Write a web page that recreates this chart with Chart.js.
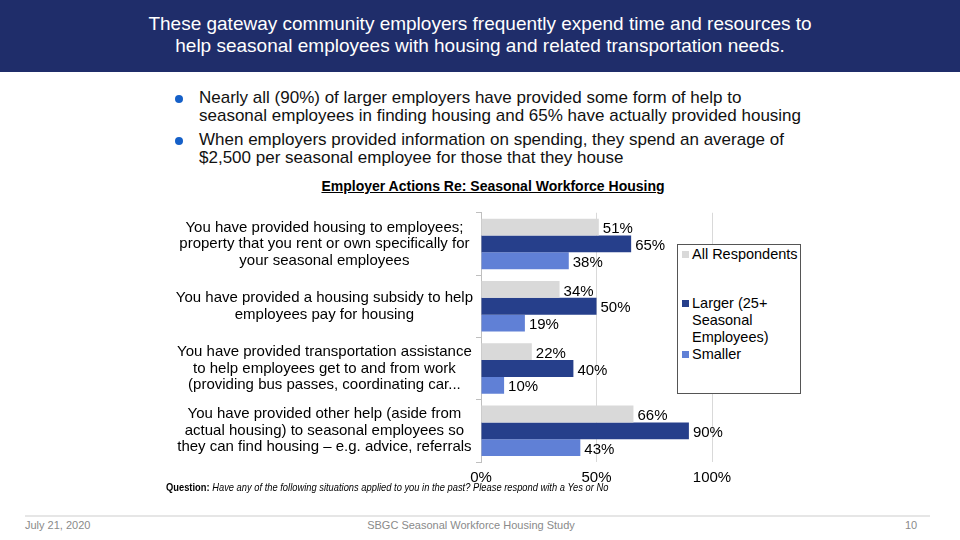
<!DOCTYPE html>
<html>
<head>
<meta charset="utf-8">
<script src="https://cdn.jsdelivr.net/npm/chart.js@4.4.1/dist/chart.umd.min.js"></script>
<style>
    body { margin: 0; width: 960px; height: 540px; position: relative; overflow: hidden; background: #fff; font-family: "Liberation Sans", Arial, sans-serif; }
    #header { position: absolute; left: 0; top: 0; width: 960px; height: 72px; background: #1f2d6a; color: #fff; text-align: center; font-size: 19px; line-height: 22px; padding-top: 13px; box-sizing: border-box; }
    #bullets { position: absolute; left: 172px; top: 89px; font-size: 17px; line-height: 18px; color: #111; }
    #bullets div { position: relative; padding-left: 27px; margin-bottom: 6px; }
    #bullets div::before { content: ""; position: absolute; left: 3px; top: 6px; width: 8px; height: 8px; border-radius: 50%; background: #1560c8; }
    #title { position: absolute; left: 0; width: 986px; top: 178px; text-align: center; font-size: 14px; font-weight: bold; text-decoration: underline; color: #000; }
    #wrap { position: absolute; left: 150px; top: 185px; width: 670px; height: 305px; }
    #legend { position: absolute; left: 677px; top: 244px; width: 124px; height: 150px; border: 1px solid #555; box-sizing: border-box; background: #fff; font-size: 14.5px; line-height: 17px; color: #000; }
    #legend .item { position: absolute; left: 4px; padding-left: 10px; }
    #legend .sw { position: absolute; left: 0; top: 5px; width: 7px; height: 7px; }
    #question { position: absolute; left: 166px; top: 481px; font-size: 10.5px; color: #000; white-space: nowrap; transform: scaleX(0.89); transform-origin: left top; }
    #rule { position: absolute; left: 25px; top: 515px; width: 905px; height: 2px; background: #e6e6e6; }
    .foot { position: absolute; top: 519px; font-size: 11px; color: #8a8a8a; }
</style>
</head>
<body>
<div id="header">These gateway community employers frequently expend time and resources to<br>help seasonal employees with housing and related transportation needs.</div>
<div id="bullets">
    <div>Nearly all (90%) of larger employers have provided some form of help to<br>seasonal employees in finding housing and 65% have actually provided housing</div>
    <div>When employers provided information on spending, they spend an average of<br>$2,500 per seasonal employee for those that they house</div>
</div>
<div id="title">Employer Actions Re: Seasonal Workforce Housing</div>
<div id="wrap"><canvas id="myChart" width="670" height="305"></canvas></div>
<div id="legend"></div>
<div id="question"><b>Question:</b> <i>Have any of the following situations applied to you in the past? Please respond with a Yes or No</i></div>
<div id="rule"></div>
<div class="foot" style="left:25px">July 21, 2020</div>
<div class="foot" style="left:0;width:942px;text-align:center">SBGC Seasonal Workforce Housing Study</div>
<div class="foot" style="left:905px">10</div>
<script>
const categories = [
    ['You have provided housing to employees;', 'property that you rent or own specifically for', 'your seasonal employees'],
    ['You have provided a housing subsidy to help', 'employees pay for housing'],
    ['You have provided transportation assistance', 'to help employees get to and from work', '(providing bus passes, coordinating car...'],
    ['You have provided other help (aside from', 'actual housing) to seasonal employees so', 'they can find housing \u2013 e.g. advice, referrals']
];
const allRespondents = [51, 34, 22, 66];
const larger = [65, 50, 40, 90];
const smaller = [38, 19, 10, 43];
const xTicks = [0, 50, 100];

const seriesNames = ['All Respondents', ['Larger (25+', 'Seasonal', 'Employees)'], 'Smaller'];
const seriesColors = ['#d9d9d9', '#263f8b', '#6080d6'];

// legend like the slide, drawn in html
const legendTops = [1, 50, 101];
let legendHtml = '';
seriesNames.forEach((name, i) => {
    let txt = Array.isArray(name) ? name.join('<br>') : name;
    legendHtml += '<div class="item" style="top:' + legendTops[i] + 'px"><span class="sw" style="background:' + seriesColors[i] + '"></span>' + txt + '</div>';
});
document.getElementById('legend').innerHTML = legendHtml;

// value labels at the end of each bar
const barLabels = {
    id: 'barLabels',
    afterDatasetsDraw(chart) {
        const ctx = chart.ctx;
        ctx.save();
        ctx.font = '15px "Liberation Sans", Arial, sans-serif';
        ctx.fillStyle = '#000';
        ctx.textAlign = 'left';
        ctx.textBaseline = 'middle';
        chart.data.datasets.forEach((ds, i) => {
            chart.getDatasetMeta(i).data.forEach((bar, j) => {
                ctx.fillText(ds.data[j] + '%', bar.x + 4, bar.y + 2);
            });
        });
        ctx.restore();
    }
};

const ctx = document.getElementById('myChart');
const chart = new Chart(ctx, {
    type: 'bar',
    data: {
        labels: categories,
        datasets: [
            { label: 'All Respondents', data: allRespondents, backgroundColor: seriesColors[0] },
            { label: 'Larger (25+ Seasonal Employees)', data: larger, backgroundColor: seriesColors[1] },
            { label: 'Smaller', data: smaller, backgroundColor: seriesColors[2] }
        ]
    },
    options: {
        indexAxis: 'y',
        responsive: false,
        animation: false,
        events: [],
        barPercentage: 1,
        categoryPercentage: 0.81,
        layout: { padding: { top: 0, right: 108, left: 0, bottom: 0 } },
        plugins: { legend: { display: false }, tooltip: { enabled: false } },
        scales: {
            x: {
                min: 0,
                max: 100,
                afterBuildTicks: (scale) => { scale.ticks = xTicks.map(v => ({ value: v })); },
                afterFit: (scale) => { scale.height = 28; },
                grid: { color: '#d9d9d9', drawTicks: false },
                border: { display: false },
                ticks: {
                    padding: 7,
                    color: '#000',
                    font: { size: 15, family: '"Liberation Sans", Arial, sans-serif' },
                    callback: (v) => v + '%'
                }
            },
            y: {
                afterFit: (scale) => { scale.width = 331; },
                grid: { offset: true, drawOnChartArea: false, tickLength: 5, color: '#bfbfbf' },
                border: { color: '#bfbfbf' },
                ticks: {
                    crossAlign: 'center',
                    padding: 3,
                    color: '#000',
                    font: { size: 15, family: '"Liberation Sans", Arial, sans-serif', lineHeight: 1.1 }
                }
            }
        }
    },
    plugins: [barLabels]
});
</script>
</body>
</html>
